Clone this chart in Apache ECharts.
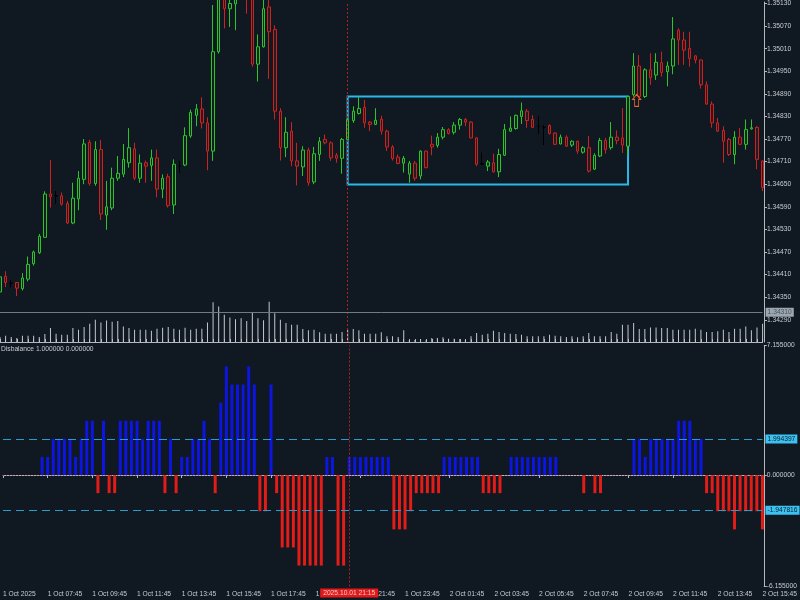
<!DOCTYPE html>
<html><head><meta charset="utf-8">
<script src="https://cdn.jsdelivr.net/npm/echarts@6/dist/echarts.min.js"></script>
<style>html,body{margin:0;padding:0;background:#101822;}#c{width:800px;height:600px;}</style>
</head><body><div id="c"></div>
<script>
// [open, high, low, close] per 15-minute bar
const ohlc = [
[1.34364,1.34408,1.34361,1.34404],[1.34406,1.34419,1.34377,1.34389],[1.34387,1.34395,1.34376,1.34387],[1.34389,1.34390,1.34353,1.34374],
[1.34373,1.34414,1.34368,1.34401],[1.34398,1.34458,1.34392,1.34437],[1.34439,1.34474,1.34434,1.34470],[1.34468,1.34518,1.34465,1.34512],
[1.34509,1.34631,1.34508,1.34624],[1.34624,1.34714,1.34588,1.34617],[1.34619,1.34632,1.34598,1.34619],[1.34619,1.34628,1.34593,1.34597],
[1.34599,1.34606,1.34544,1.34547],[1.34547,1.34654,1.34544,1.34613],[1.34611,1.34685,1.34581,1.34666],[1.34663,1.34770,1.34650,1.34757],
[1.34761,1.34768,1.34646,1.34652],[1.34652,1.34764,1.34646,1.34742],[1.34742,1.34768,1.34555,1.34571],[1.34568,1.34659,1.34529,1.34590],
[1.34587,1.34694,1.34581,1.34666],[1.34666,1.34725,1.34659,1.34679],[1.34677,1.34757,1.34669,1.34716],[1.34707,1.34799,1.34694,1.34747],
[1.34744,1.34760,1.34661,1.34666],[1.34666,1.34729,1.34654,1.34706],[1.34707,1.34713,1.34654,1.34698],[1.34700,1.34742,1.34659,1.34720],
[1.34720,1.34742,1.34615,1.34637],[1.34637,1.34676,1.34613,1.34666],[1.34670,1.34678,1.34588,1.34593],[1.34595,1.34716,1.34571,1.34703],
[1.34698,1.34712,1.34680,1.34698],[1.34701,1.34801,1.34698,1.34779],[1.34778,1.34848,1.34773,1.34841],[1.34833,1.34863,1.34804,1.34850],
[1.34850,1.34881,1.34798,1.34813],[1.34813,1.34828,1.34687,1.34738],[1.34738,1.35126,1.34712,1.35002],[1.35002,1.35187,1.34997,1.35160],
[1.35147,1.35174,1.35064,1.35116],[1.35116,1.35147,1.35068,1.35130],[1.35129,1.35174,1.35059,1.35155],[1.35160,1.35200,1.35147,1.35187],
[1.35187,1.35200,1.35103,1.35142],[1.35147,1.35160,1.34962,1.34969],[1.34969,1.35048,1.34923,1.35015],[1.35015,1.35142,1.35013,1.35116],
[1.35121,1.35139,1.34930,1.35055],[1.35061,1.35072,1.34822,1.34844],[1.34844,1.34852,1.34713,1.34747],[1.34747,1.34828,1.34722,1.34788],
[1.34791,1.34815,1.34698,1.34712],[1.34712,1.34760,1.34647,1.34698],[1.34696,1.34751,1.34672,1.34741],[1.34741,1.34747,1.34646,1.34654],
[1.34656,1.34749,1.34650,1.34731],[1.34729,1.34775,1.34712,1.34764],[1.34769,1.34782,1.34756,1.34760],[1.34760,1.34764,1.34712,1.34720],
[1.34727,1.34733,1.34707,1.34719],[1.34719,1.34773,1.34678,1.34769],[1.34769,1.34826,1.34764,1.34822],[1.34819,1.34857,1.34813,1.34844],
[1.34838,1.34881,1.34835,1.34851],[1.34854,1.34874,1.34800,1.34813],[1.34815,1.34818,1.34791,1.34809],[1.34809,1.34852,1.34807,1.34820],
[1.34823,1.34832,1.34782,1.34791],[1.34791,1.34795,1.34738,1.34749],[1.34749,1.34754,1.34713,1.34718],[1.34722,1.34729,1.34703,1.34705],
[1.34706,1.34725,1.34681,1.34719],[1.34677,1.34712,1.34654,1.34706],[1.34706,1.34712,1.34659,1.34666],[1.34672,1.34740,1.34663,1.34738],
[1.34738,1.34739,1.34692,1.34694],[1.34756,1.34779,1.34727,1.34749],[1.34753,1.34786,1.34747,1.34775],[1.34775,1.34802,1.34769,1.34795],
[1.34795,1.34799,1.34782,1.34785],[1.34788,1.34815,1.34782,1.34807],[1.34807,1.34826,1.34795,1.34822],[1.34822,1.34826,1.34804,1.34815],
[1.34815,1.34818,1.34772,1.34773],[1.34773,1.34775,1.34698,1.34703],[1.34704,1.34734,1.34701,1.34704],[1.34698,1.34714,1.34685,1.34709],
[1.34707,1.34731,1.34681,1.34683],[1.34683,1.34744,1.34669,1.34729],[1.34727,1.34810,1.34725,1.34795],[1.34791,1.34830,1.34789,1.34799],
[1.34798,1.34835,1.34795,1.34833],[1.34830,1.34867,1.34810,1.34845],[1.34844,1.34850,1.34800,1.34819],[1.34822,1.34833,1.34800,1.34801],
[1.34804,1.34830,1.34783,1.34804],[1.34801,1.34807,1.34754,1.34801],[1.34806,1.34809,1.34782,1.34785],[1.34786,1.34788,1.34754,1.34756],
[1.34757,1.34782,1.34756,1.34775],[1.34775,1.34780,1.34749,1.34751],[1.34754,1.34767,1.34749,1.34764],[1.34764,1.34766,1.34731,1.34738],
[1.34735,1.34751,1.34731,1.34747],[1.34747,1.34778,1.34681,1.34685],[1.34690,1.34732,1.34688,1.34727],[1.34725,1.34773,1.34722,1.34766],
[1.34766,1.34773,1.34731,1.34742],[1.34747,1.34815,1.34742,1.34775],[1.34775,1.34793,1.34756,1.34766],[1.34773,1.34852,1.34733,1.34754],
[1.34751,1.34885,1.34727,1.34883],[1.34888,1.34998,1.34883,1.34964],[1.34964,1.34993,1.34879,1.34883],[1.34883,1.34958,1.34879,1.34954],
[1.34954,1.34998,1.34914,1.34933],[1.34940,1.34998,1.34927,1.34974],[1.34973,1.35002,1.34936,1.34947],[1.34949,1.34976,1.34910,1.34964],
[1.34964,1.35094,1.34942,1.35036],[1.35059,1.35064,1.34967,1.35033],[1.35033,1.35055,1.34967,1.35006],[1.35011,1.35055,1.34962,1.34984],
[1.34991,1.34993,1.34971,1.34980],[1.34980,1.34981,1.34904,1.34914],[1.34914,1.34923,1.34861,1.34863],[1.34863,1.34870,1.34800,1.34813],
[1.34813,1.34826,1.34789,1.34791],[1.34793,1.34804,1.34707,1.34764],[1.34769,1.34773,1.34725,1.34729],[1.34729,1.34791,1.34703,1.34775],
[1.34775,1.34799,1.34754,1.34756],[1.34756,1.34822,1.34742,1.34795],[1.34797,1.34822,1.34795,1.34800],[1.34801,1.34804,1.34690,1.34716],
[1.34712,1.34713,1.34632,1.34641]
];
const volume = [50,63,50,40,63,63,63,50,80,140, 83,73,73,140,123,150,183,223,197,217,
 203,210,157,140,123,123,123,113,133,143, 150,133,123,143,123,133,133,197,400,357,
 273,247,230,240,210,297,240,220,406,290, 223,190,173,173,130,117,123,97,83,83,
 83,100,123,130,117,83,83,83,97,57, 57,50,117,20,20,30,20,40,40,47,
 33,33,30,20,57,90,73,83,113,100, 90,83,80,73,57,57,57,57,73,63,
 57,50,57,47,57,90,57,57,57,100, 83,173,173,190,130,130,147,147,140,140,
 123,123,123,123,133,123,100,100,107,123, 100,133,133,157,117,147,183];
const disbalance = [0,0,0,0,0,0,0,1,1,2, 2,2,2,1,2,3,3,-1,3,-1,
 -1,3,3,3,3,2,3,3,3,-1, 2,-1,1,1,2,2,3,2,-1,4,
 6,5,5,5,6,5,-2,-2,5,-1, -4,-4,-4,-5,-5,-5,-5,-5,1,1,
 -5,-5,1,1,1,1,1,1,1,1, -3,-3,-3,-2,-1,-1,-1,-1,-1,1,
 1,1,1,1,1,1,-1,-1,-1,-1, 0,1,1,1,1,1,1,1,1,1,
 0,0,0,0,-1,0,-1,-1,0,0, 0,0,0,2,2,1,2,2,2,2,
 2,3,3,3,2,2,-1,-1,-2,-2, -2,-3,-2,-2,-2,-2,-3];
const priceTicks = [1.35130,1.35070,1.35010,1.34950,1.34890,1.34830,1.34770,1.34710,1.34650,1.34590,1.34530,1.34470,1.34410,1.34350,1.34290];
const indicatorTicks = [7.155, 0, -6.155];
const levelHigh = 1.994397, levelLow = -1.947816;
const timeTickLabels = ['1 Oct 2025','1 Oct 07:45','1 Oct 09:45','1 Oct 11:45','1 Oct 13:45','1 Oct 15:45','1 Oct 17:45','1 Oct 19:45','1 Oct 21:45','1 Oct 23:45','2 Oct 01:45','2 Oct 03:45','2 Oct 05:45','2 Oct 07:45','2 Oct 09:45','2 Oct 11:45','2 Oct 13:45','2 Oct 15:45'];
const markerIndex = 62, markerText = '2025.10.01 21:15';
const boxFrom = 62, boxTo = 112, boxTop = 1.34883, boxBottom = 1.34649;
const hLinePrice = 1.34310;
const arrowIndex = 113, arrowPrice = 1.34873;

const categories = [];
const t0 = Date.UTC(2025, 9, 1, 5, 45);
for (let i = 0; i < ohlc.length; i++) {
  const d = new Date(t0 + i * 15 * 60000);
  const p = n => String(n).padStart(2, '0');
  categories.push(d.getUTCFullYear() + '.' + p(d.getUTCMonth() + 1) + '.' + p(d.getUTCDate()) + ' ' + p(d.getUTCHours()) + ':' + p(d.getUTCMinutes()));
}

const txt = '#c8ccd0', axisCol = '#b4b8bc';
const font = 'Liberation Sans, Arial, sans-serif';
const fs = 6.7;
const chart = echarts.init(document.getElementById('c'), null, {renderer: 'canvas'});
chart.setOption({
  backgroundColor: '#101822',
  animation: false,
  title: {text: 'Disbalance 1.000000 0.000000', left: 1, top: 345.5, padding: 0,
    textStyle: {color: txt, fontSize: fs, fontWeight: 'normal', fontFamily: font}},
  grid: [
    {left: -1, right: 37.4, top: 0, height: 342},
    {left: -1, right: 37.4, top: 345.5, height: 241}
  ],
  xAxis: [
    {type: 'category', gridIndex: 0, data: categories, boundaryGap: false,
     axisLine: {lineStyle: {color: axisCol, width: 1}},
     axisTick: {show: true, inside: true, length: 3, interval: 0, lineStyle: {color: axisCol}},
     axisLabel: {show: false}, splitLine: {show: false}},
    {type: 'category', gridIndex: 1, data: categories, boundaryGap: false,
     axisLine: {lineStyle: {color: axisCol, width: 1}},
     axisTick: {show: true, length: 3, interval: 7, lineStyle: {color: axisCol}},
     axisLabel: {show: true, interval: 7, align: 'left', margin: 4, color: txt, fontSize: fs, fontFamily: font,
       formatter: (v, i) => timeTickLabels[Math.round(i / 8)] || ''},
     splitLine: {show: false}}
  ],
  yAxis: [
    {type: 'value', gridIndex: 0, position: 'right', offset: 1.4, min: 1.34231, max: 1.35134,
     axisLine: {show: true, lineStyle: {color: axisCol}},
     axisTick: {show: true, length: 3, customValues: priceTicks, lineStyle: {color: axisCol}},
     axisLabel: {show: true, customValues: priceTicks, formatter: v => v.toFixed(5), color: txt, fontSize: fs, fontFamily: font, margin: 3},
     splitLine: {show: false}},
    {type: 'value', gridIndex: 0, min: 0, max: 3420, show: false, splitLine: {show: false}},
    {type: 'value', gridIndex: 1, position: 'right', offset: 1.4, min: -6.155, max: 7.155,
     axisLine: {show: true, lineStyle: {color: axisCol}},
     axisTick: {show: true, length: 3, customValues: indicatorTicks, lineStyle: {color: axisCol}},
     axisLabel: {show: true, customValues: indicatorTicks, formatter: v => v.toFixed(6), color: txt, fontSize: fs, fontFamily: font, margin: 3},
     splitLine: {show: false}}
  ],
  series: [
    {type: 'bar', name: 'Volume', xAxisIndex: 0, yAxisIndex: 1, barWidth: 1, data: volume,
     itemStyle: {color: '#c4c8cc'}, silent: true},
    {type: 'candlestick', name: 'Price', xAxisIndex: 0, yAxisIndex: 0, barWidth: 3, clip: true,
     data: ohlc.map(r => [r[0], r[3], r[2], r[1]]),
     itemStyle: {color: '#112219', color0: '#2c171a', borderColor: '#2cc42c', borderColor0: '#cc2222', borderColorDoji: '#000000', borderWidth: 1},
     markLine: {symbol: 'none', silent: true, animation: false, precision: 6,
       data: [
         {xAxis: categories[markerIndex], lineStyle: {color: '#a82222', type: [2, 2], width: 1}, label: {show: false}},
         {yAxis: hLinePrice, lineStyle: {color: '#707a84', type: 'solid', width: 1},
          label: {show: true, position: 'end', distance: 3, formatter: hLinePrice.toFixed(5), backgroundColor: '#9ca6b0', color: '#48525c', fontSize: fs, fontFamily: font, padding: [1, 2]}}
       ]},
     markArea: {silent: true,
       itemStyle: {color: 'rgba(0,0,0,0)', borderColor: '#2ab8ea', borderWidth: 2},
       data: [[{xAxis: categories[boxFrom], yAxis: boxTop}, {xAxis: categories[boxTo], yAxis: boxBottom}]]},
     markPoint: {silent: true, animation: false,
       data: [{coord: [categories[arrowIndex], arrowPrice], symbol: 'path://M4,0L8,5L6,5L6,12L2,12L2,5L0,5Z', symbolSize: [8, 12], symbolOffset: [3, 0],
         itemStyle: {color: 'rgba(0,0,0,0)', borderColor: '#e8642a', borderWidth: 1}, label: {show: false}}]}
    },
    {type: 'bar', name: 'Disbalance', xAxisIndex: 1, yAxisIndex: 2, barWidth: 3,
     data: disbalance.map(v => ({value: v, itemStyle: {color: v >= 0 ? '#0c16e0' : '#e21c16'}})),
     markLine: {symbol: 'none', silent: true, animation: false, precision: 6,
       data: [
         {yAxis: 0, lineStyle: {color: '#a85060', type: [1, 2], width: 1}, label: {show: false}},
         {yAxis: levelHigh, lineStyle: {color: '#2c9ccc', type: [8, 5], width: 1},
          label: {show: true, position: 'end', distance: 3, formatter: levelHigh.toFixed(6), backgroundColor: '#3cc2f2', color: '#0c1c28', fontSize: fs, fontFamily: font, padding: [1, 2]}},
         {yAxis: levelLow, lineStyle: {color: '#2c9ccc', type: [8, 5], width: 1},
          label: {show: true, position: 'end', distance: 3, formatter: levelLow.toFixed(6), backgroundColor: '#3cc2f2', color: '#0c1c28', fontSize: fs, fontFamily: font, padding: [1, 2]}},
         {xAxis: categories[markerIndex], lineStyle: {color: '#a82222', type: [2, 2], width: 1},
          label: {show: true, position: 'start', distance: 2, formatter: markerText, backgroundColor: '#e01a1a', color: '#f4c8c8', fontSize: fs, fontFamily: font, padding: [1, 3]}}
       ]}
    }
  ]
});
</script></body></html>
